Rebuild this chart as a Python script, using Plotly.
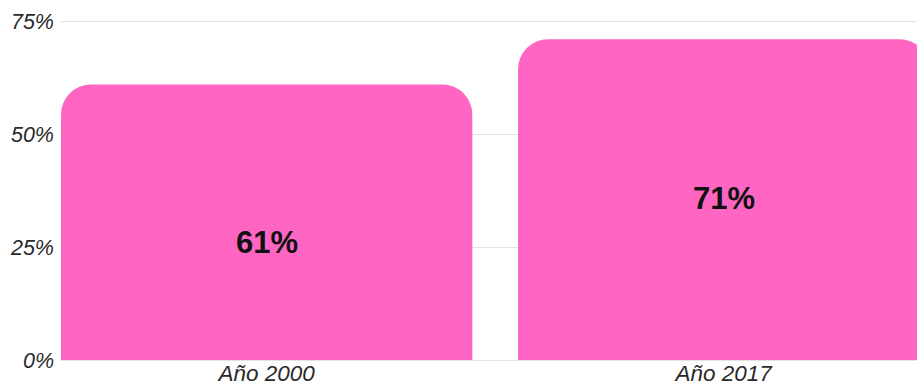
import plotly.graph_objects as go

categories = ["Año 2000", "Año 2017"]
values = [61, 71]
value_labels = ["61%", "71%"]
y_ticks = [0, 25, 50, 75]
y_tick_labels = ["0%", "25%", "50%", "75%"]

# vertical placement of each in-bar label (data units)
label_heights = [26.1, 35.8]

pink = "#FF66C4"

fig = go.Figure(
    go.Bar(
        x=[0, 1],
        y=values,
        width=0.9,
        marker=dict(color=pink, line=dict(width=0)),
        hoverinfo="skip",
    )
)

for i, (lab, h) in enumerate(zip(value_labels, label_heights)):
    fig.add_annotation(
        x=i, y=h, text=f"<b>{lab}</b>", showarrow=False,
        font=dict(family="Liberation Sans, Arial, sans-serif", size=31, color="#111111"),
        xanchor="center", yanchor="middle",
    )

fig.update_layout(
    width=917, height=385,
    margin=dict(l=61, r=0, t=20, b=25),
    paper_bgcolor="white", plot_bgcolor="white",
    barcornerradius=30,
    showlegend=False,
    font=dict(family="Liberation Sans, Arial, sans-serif"),
    xaxis=dict(
        range=[-0.45, 1.423],
        tickmode="array", tickvals=[0, 1], ticktext=[f"<i>{c}</i>" for c in categories],
        tickfont=dict(size=22.5, color="#2a2a2a"),
        showgrid=False, zeroline=False, showline=False, ticks="",
        ticklabelstandoff=-3, automargin=False,
    ),
    yaxis=dict(
        range=[0, 75.25],
        tickmode="array", tickvals=y_ticks, ticktext=[f"<i>{t}</i>" for t in y_tick_labels],
        tickfont=dict(size=21.5, color="#2a2a2a"),
        showgrid=True, gridcolor="#e2e2e2", gridwidth=1,
        zeroline=True, zerolinecolor="#e2e2e2", zerolinewidth=1,
        showline=False, ticks="",
        ticklabelstandoff=6, automargin=False,
    ),
)

fig.write_html("out.html")
